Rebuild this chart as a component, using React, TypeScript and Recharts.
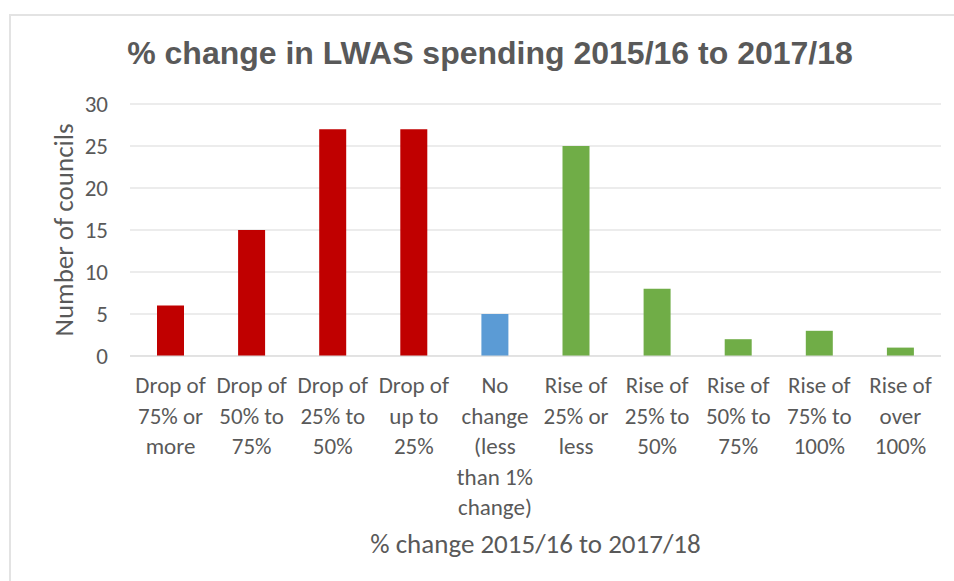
import React from 'react'

import {
    BarChart,
    Bar,
    Cell,
    XAxis,
    YAxis,
    CartesianGrid,
} from 'recharts';

const categories = [
    'Drop of\n75% or\nmore',
    'Drop of\n50% to\n75%',
    'Drop of\n25% to\n50%',
    'Drop of\nup to\n25%',
    'No\nchange\n(less\nthan 1%\nchange)',
    'Rise of\n25% or\nless',
    'Rise of\n25% to\n50%',
    'Rise of\n50% to\n75%',
    'Rise of\n75% to\n100%',
    'Rise of\nover\n100%',
];

const councils = [6, 15, 27, 27, 5, 25, 8, 2, 3, 1];

const direction = ['drop', 'drop', 'drop', 'drop', 'none', 'rise', 'rise', 'rise', 'rise', 'rise'];

const yTicks = [0, 5, 10, 15, 20, 25, 30];

const colours: Record<string, string> = {
    drop: '#C00000',
    none: '#5B9BD5',
    rise: '#70AD47',
};

const FONT = 'Calibri, Carlito, Lato, "Liberation Sans", sans-serif';
const TEXT = '#595959';
const GRID = '#D9D9D9';

const data = categories.map((name, i) => ({
    name,
    value: councils[i],
    kind: direction[i],
}));

const CategoryTick = (props: any) => {
    const { x, y, payload } = props;
    const lines = String(payload.value).split('\n');
    return (
        <text x={x} y={y} textAnchor="middle" fill={TEXT} fontFamily={FONT} fontSize={23}>
            {lines.map((line, i) => (
                <tspan key={i} x={x} dy={i === 0 ? 29 : 30.5}>{line}</tspan>
            ))}
        </text>
    );
};

const App: React.FC = () => {
    return (
        <div style={{ position: 'absolute', left: 0, top: 0, width: 954, height: 581, background: '#fff' }}>
            <div style={{
                position: 'absolute', left: 9, top: 14, right: 0, bottom: 0,
                borderTop: '2px solid #E3E3E3', borderLeft: '2px solid #E3E3E3',
            }} />
            <div style={{
                position: 'absolute', left: 0, top: 37, width: 980, textAlign: 'center',
                fontFamily: '"Liberation Sans", Arial, sans-serif', fontWeight: 'bold',
                fontSize: 32, lineHeight: '32px', color: TEXT,
            }}>
                % change in LWAS spending 2015/16 to 2017/18
            </div>
            <div style={{ position: 'absolute', left: 0, top: 0 }}>
                <BarChart
                    width={954}
                    height={581}
                    data={data}
                    barSize={27}
                    margin={{ top: 104, right: 13, left: 70, bottom: 0 }}
                >
                    <CartesianGrid vertical={false} stroke={GRID} />
                    <XAxis
                        dataKey="name"
                        height={225}
                        interval={0}
                        tickLine={false}
                        axisLine={{ stroke: GRID }}
                        tick={<CategoryTick />}
                        label={(p: any) => {
                            const vb = p.viewBox;
                            return (
                                <text x={vb.x + vb.width / 2} y={vb.y + 197} textAnchor="middle"
                                    fill={TEXT} fontFamily={FONT} fontSize={27}>
                                    % change 2015/16 to 2017/18
                                </text>
                            );
                        }}
                    />
                    <YAxis
                        width={60}
                        domain={[0, 30]}
                        ticks={yTicks}
                        interval={0}
                        tickLine={false}
                        tickMargin={16}
                        axisLine={false}
                        tick={{ fill: TEXT, fontFamily: FONT, fontSize: 23 }}
                        label={(p: any) => {
                            const vb = p.viewBox;
                            const cy = vb.y + vb.height / 2;
                            return (
                                <text x={63} y={cy} transform={`rotate(-90 63 ${cy})`} textAnchor="middle"
                                    dominantBaseline="central" fill={TEXT} fontFamily={FONT} fontSize={27}>
                                    Number of councils
                                </text>
                            );
                        }}
                    />
                    <Bar dataKey="value" isAnimationActive={false}>
                        {data.map((d, i) => (
                            <Cell key={i} fill={colours[d.kind]} />
                        ))}
                    </Bar>
                </BarChart>
            </div>
        </div>
    );
}

export default App
